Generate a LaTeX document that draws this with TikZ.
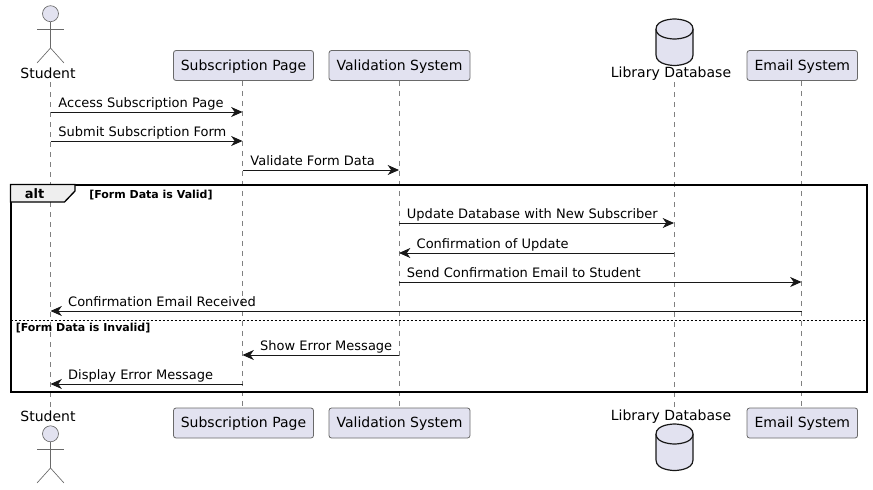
\documentclass[tikz,border=0pt]{standalone}
\usepackage{fontspec}
\setmainfont{DejaVu Sans}
\usetikzlibrary{arrows.meta}
\definecolor{partfill}{HTML}{E2E2F0}
\definecolor{partline}{HTML}{181818}
\definecolor{tabfill}{HTML}{EEEEEE}
\tikzset{
  partbox/.style={draw=partline!65,fill=partfill,line width=0.6pt,rounded corners=1.9pt,
    minimum height=22.5pt,inner sep=0pt,text height=9.2pt,text depth=2pt,font=\fontsize{10.5}{12}\selectfont},
  partlabel/.style={inner sep=0pt,font=\fontsize{10.5}{12}\selectfont},
  figure/.style={draw=partline!65,line width=0.5pt},
  dbshape/.style={draw=partline,fill=partfill,line width=0.9pt},
  lifeline/.style={draw=partline!55,line width=0.4pt,dash pattern=on 3.75pt off 3.75pt},
  msg/.style={draw=partline,line width=0.75pt,-{Stealth[length=8.5pt,width=7.5pt,inset=2.6pt]}},
  msglabel/.style={anchor=base west,inner sep=0pt,xshift=5.6pt,yshift=3.6pt,font=\fontsize{9.75}{12}\selectfont},
  backlabel/.style={msglabel,xshift=7.3pt},
  altline/.style={draw=black,line width=1.5pt},
  guard/.style={anchor=base west,inner sep=0pt,font=\bfseries\fontsize{8.25}{10}\selectfont}
}
\begin{document}
\begin{tikzpicture}[x=0.75pt,y=-0.75pt]
  \useasboundingbox (0,0) rectangle (873,489);
  % row coordinates on every lifeline
  \foreach \name/\px in {student/50.5,page/242.5,valid/399,libdb/674,email/801.5} {
    \foreach \row/\py in {1/112,2/141,3/170,4/223,5/253,6/282,7/311,8/355,9/384} {
      \coordinate (\name\row) at (\px,\py);
    }
  }
  \coordinate (studenttop) at (50.5,82);
  \coordinate (studentend) at (50.5,408);
  \coordinate (libdbtop) at (674,82);
  \coordinate (libdbend) at (674,408);
  % participants, top row
  \node[partlabel] (studentname) at (48,73.5) {Student};
  \node[partbox,minimum width=105pt] (page) at (243.5,65.5) {Subscription Page};
  \node[partbox,minimum width=105.75pt] (valid) at (399.5,65.5) {Validation System};
  \node[partlabel] (libdbname) at (671,73.5) {Library Database};
  \node[partbox,minimum width=82.9pt] (email) at (802.3,65.5) {Email System};
  % participants, bottom row
  \node[partlabel] (studentnameb) at (48,416.5) {Student};
  \node[partbox,minimum width=105pt] (pageb) at (243.5,423) {Subscription Page};
  \node[partbox,minimum width=105.75pt] (validb) at (399.5,423) {Validation System};
  \node[partlabel] (libdbnameb) at (671,416.5) {Library Database};
  \node[partbox,minimum width=82.9pt] (emailb) at (802.3,423) {Email System};
  % lifelines
  \draw[lifeline] (studenttop) -- (studentend);
  \draw[lifeline] (page1 |- page.south) -- (page1 |- pageb.north);
  \draw[lifeline] (valid1 |- valid.south) -- (valid1 |- validb.north);
  \draw[lifeline] (libdbtop) -- (libdbend);
  \draw[lifeline] (email1 |- email.south) -- (email1 |- emailb.north);
  % actor top
  \node[figure,fill=partfill,circle,minimum size=12pt,inner sep=0pt] (headtop) at (50.5,13.7) {};
  \draw[figure] (headtop.south) -- (50.5,48) -- (37,63);
  \draw[figure] (50.5,48) -- (64,63);
  \draw[figure] (37,29) -- (64,29);
  % actor bottom
  \node[figure,fill=partfill,circle,minimum size=12pt,inner sep=0pt] (headbot) at (50.5,433.8) {};
  \draw[figure] (headbot.south) -- (50.5,468) -- (37,483);
  \draw[figure] (50.5,468) -- (64,483);
  \draw[figure] (37,449.3) -- (64,449.3);
  % database top
  \draw[dbshape] (656,29) .. controls (656,19) and (674.5,19) .. (674.5,19)
    .. controls (674.5,19) and (693,19) .. (693,29) -- (693,55)
    .. controls (693,65.5) and (674.5,65.5) .. (674.5,65.5)
    .. controls (674.5,65.5) and (656,65.5) .. (656,55) -- cycle;
  \draw[dbshape] (656,29) .. controls (656,39) and (674.5,39) .. (674.5,39)
    .. controls (674.5,39) and (693,39) .. (693,29);
  % database bottom
  \draw[dbshape] (656,434) .. controls (656,424) and (674.5,424) .. (674.5,424)
    .. controls (674.5,424) and (693,424) .. (693,434) -- (693,460)
    .. controls (693,470.5) and (674.5,470.5) .. (674.5,470.5)
    .. controls (674.5,470.5) and (656,470.5) .. (656,460) -- cycle;
  \draw[dbshape] (656,434) .. controls (656,444) and (674.5,444) .. (674.5,444)
    .. controls (674.5,444) and (693,444) .. (693,434);
  % alt frame
  \draw[altline] (10.5,184.5) rectangle (866.5,392);
  \draw[altline,fill=tabfill,line width=1pt] (10.5,184.5) -- (75,184.5) -- (75,191) -- (64.5,202) -- (10.5,202) -- cycle;
  \node[anchor=base,inner sep=0pt,font=\bfseries\fontsize{9.75}{12}\selectfont] (alttag) at (34.5,198.5) {alt};
  \node[guard] (validguard) at (89,198) {[Form Data is Valid]};
  \coordinate (elseleft) at (10.5,320.5);
  \coordinate (elseright) at (866.5,320.5);
  \draw[draw=black,line width=0.75pt,dash pattern=on 1.5pt off 1.5pt] (elseleft) -- (elseright);
  \node[guard] (invalidguard) at (15.5,331.5) {[Form Data is Invalid]};
  % messages
  \draw[msg] (student1) -- (page1) node[msglabel,at start] (m1) {Access Subscription Page};
  \draw[msg] (student2) -- (page2) node[msglabel,at start] (m2) {Submit Subscription Form};
  \draw[msg] (page3) -- (valid3) node[msglabel,at start] (m3) {Validate Form Data};
  \draw[msg] (valid4) -- (libdb4) node[msglabel,at start] (m4) {Update Database with New Subscriber};
  \draw[msg] (libdb5) -- (valid5) node[backlabel,at end] (m5) {Confirmation of Update};
  \draw[msg] (valid6) -- (email6) node[msglabel,at start] (m6) {Send Confirmation Email to Student};
  \draw[msg] (email7) -- (student7) node[backlabel,at end] (m7) {Confirmation Email Received};
  \draw[msg] (valid8) -- (page8) node[backlabel,at end] (m8) {Show Error Message};
  \draw[msg] (page9) -- (student9) node[backlabel,at end] (m9) {Display Error Message};
\end{tikzpicture}
\end{document}
